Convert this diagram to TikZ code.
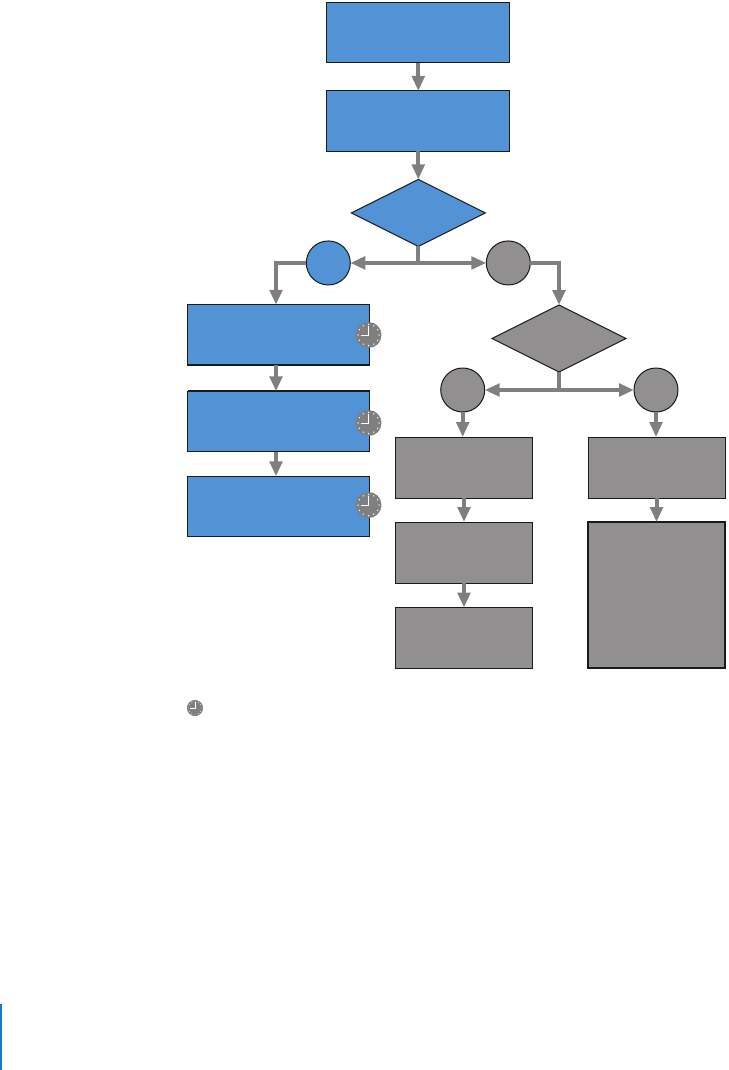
\documentclass[tikz,border=0pt]{standalone}
\usepackage{xcolor}
\usetikzlibrary{arrows.meta, positioning, shapes.geometric}
\definecolor{flowBlue}{HTML}{5293D6}
\definecolor{flowGray}{HTML}{918F8F}
\definecolor{lineGray}{HTML}{7F7F7F}
\definecolor{edgeDark}{HTML}{1A1A1A}
\definecolor{barBlue}{HTML}{1A78C8}

\begin{document}
\begin{tikzpicture}[
    x=1pt, y=-1pt,
    node distance=28pt and 28pt,
    box/.style={rectangle, draw=edgeDark, line width=1pt, inner sep=0pt, outer sep=0pt,
                minimum height=60.5pt},
    wideBox/.style={box, fill=flowBlue, minimum width=183pt},
    leftBox/.style={box, fill=flowBlue, minimum width=182pt},
    grayBox/.style={box, fill=flowGray, minimum width=137pt, minimum height=61pt},
    choice/.style={diamond, draw=edgeDark, line width=1pt, inner sep=0pt, outer sep=0pt,
                minimum width=134pt, minimum height=67pt},
    dot/.style={circle, draw=edgeDark, line width=1pt, inner sep=0pt, outer sep=0pt,
                minimum size=44pt},
    arr/.style={-{Stealth[length=15pt, width=12.5pt, inset=0pt]}, line width=4pt, lineGray},
    stem/.style={line width=4pt, lineGray},
    pics/clock/.style={code={
        \fill[lineGray] (0,0) circle (13pt);
        \foreach \a in {0,30,...,330}
            \fill[white] (\a:10.5pt) circle (0.75pt);
        \draw[white, line width=0.9pt] (0pt,9pt) -- (0pt,0pt) -- (-8pt,0pt);
    }},
]
\useasboundingbox (0,0) rectangle (728,1070);

% main column
\node[wideBox] (start) at (418.3,32.7) {};
\node[wideBox, below=28pt of start] (second) {};
\node[choice, fill=flowBlue, below=28pt of second] (firstChoice) {};
\coordinate[below=16.5pt of firstChoice] (firstSplit);

\node[dot, fill=flowBlue, left=68pt of firstSplit] (yesDot) {};
\node[dot, fill=flowGray, right=68pt of firstSplit] (noDot) {};

% left branch
\node[leftBox] (stepA) at (278.5,335) {};
\node[leftBox, below=26pt of stepA] (stepB) {};
\node[leftBox, below=24.5pt of stepB] (stepC) {};
\draw[edgeDark, line width=1.8pt] (stepA.south west) -- (stepA.south east);
\draw[edgeDark, line width=1.8pt] (stepB.north west) -- (stepB.north east);

\pic at (368.5,335) {clock};
\pic at (368.5,423) {clock};
\pic at (368.5,505) {clock};

% right branch
\node[choice, fill=flowGray] (secondChoice) at (559,338.5) {};
\coordinate[below=18pt of secondChoice] (secondSplit);

\node[dot, fill=flowGray] (leftDot) at (462.7,390) {};
\node[dot, fill=flowGray] (rightDot) at (656,390) {};

\node[grayBox] (grayA) at (464,467.5) {};
\node[grayBox, below=24pt of grayA] (grayB) {};
\node[grayBox, below=24.5pt of grayB] (grayC) {};

\node[grayBox] (grayD) at (656.5,467.5) {};
\node[grayBox, below=24pt of grayD, minimum height=146pt, line width=1.2pt] (grayE) {};

\draw[arr] (start) -- (second);
\draw[arr] (second) -- (firstChoice);
\draw[stem] (firstChoice.south) -- (firstSplit);
\draw[arr] (firstSplit) -- (yesDot);
\draw[arr] (firstSplit) -- (noDot);
\draw[arr] (yesDot.west) -| ([xshift=-2.5pt]stepA.north);
\draw[arr] (noDot.east) -| (secondChoice.north);

\draw[arr] ([xshift=-2.5pt]stepA.south) -- ([xshift=-2.5pt]stepB.north);
\draw[arr] ([xshift=-2.5pt]stepB.south) -- ([xshift=-2.5pt]stepC.north);

\draw[stem] (secondChoice.south) -- (secondSplit);
\draw[arr] (secondSplit) -- (leftDot);
\draw[arr] (secondSplit) -- (rightDot);
\draw[arr] (leftDot) -- (leftDot |- grayA.north);
\draw[arr] (rightDot) -- (rightDot |- grayD.north);

\draw[arr] (grayA) -- (grayB);
\draw[arr] (grayB) -- (grayC);
\draw[arr] (grayD) -- (grayE);

% legend clock and page bar
\pic[scale=0.62, transform shape] at (195,708) {clock};
\fill[barBlue] (0,1004) rectangle (2,1070);
\end{tikzpicture}
\end{document}
